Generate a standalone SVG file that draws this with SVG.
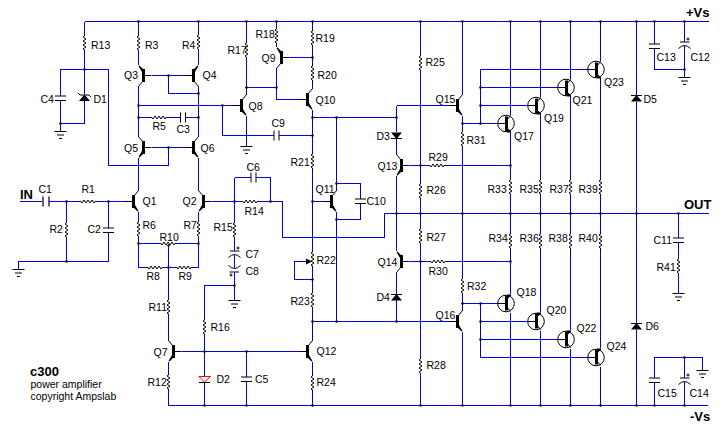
<svg xmlns="http://www.w3.org/2000/svg" width="724" height="430" viewBox="0 0 724 430">
<style>
text{font-family:"Liberation Sans",Arial,sans-serif;font-size:10.5px;fill:#000}
text.b{font-weight:bold;font-size:13px}
.w{fill:none;stroke:#0000e6;stroke-width:1;shape-rendering:crispEdges}
.j{fill:none;stroke:#000;stroke-width:2.6;stroke-linecap:round}
.k{fill:none;stroke:#000;stroke-width:1}
.f{fill:#000;stroke:none}
</style>
<defs>
<path id="rv" class="k" d="M0 0l0 2-1.500 1 3 2-3 2 3 2-3 2 3 2-3 2 1.500 1 0 2"/>
<path id="rh" class="k" d="M0 0l2 0 1 1.500 2-3 2 3 2-3 2 3 2-3 2 3 1-1.500 2 0"/>
<g id="q"><path class="k" d="M5 0H13M0-11L4.500-5.500"/><rect class="f" x="3.500" y="-6.500" width="3" height="13"/><path class="f" d="M3.500 3.500L7 4 1 10 0 9.500z"/></g>
<g id="qc"><circle class="k" cx="0" cy="0" r="8.300"/><path class="k" d="M-8 0H0M1-3.500L4.500-8"/><rect class="f" x="-1" y="-7" width="3" height="15"/><path class="f" d="M1 4L5 8V9H1z"/></g>
<path id="pv" class="k" d="M-5.500 0H5.500M-5.500 4.500H5.500"/>
<path id="ph" class="k" d="M0-5V5M5-5V5"/>
<path id="ec" class="k" d="M-4.500 0H5M-6 6.500Q0 .5 6 6.500M3.500-4.500V-1.500M2-3H5"/>
<path id="gnd" class="k" d="M-6 .5H6M-3.500 4H3.500M-1.500 7.500H1.500"/>
<g id="du"><path class="k" d="M-5.500 .5H5.500"/><path class="f" d="M0 0L5.500 6.500H-5.500z"/></g>
</defs>
<g id="connectors">
<path class="w" d="M84.500 21.500H709M168.500 405.500H708
M84.500 21.500V34M84.500 52V94M84.500 101V123.500H60.500V131M60.500 123.500V101M60.500 96V69.500H108.500V165.500H168.500V147.500
M138.500 21.500V34M138.500 52V64.500M138.500 85.500V136.500M138.500 157.500V190.500M138.500 211.500V220M138.500 238V267.500H146M164 267.500H175M193 267.500H198.500V238M198.500 220V211.500M198.500 190.500V157.500M198.500 136.500V85.500M198.500 64.500V51M198.500 33V21.500
M151.500 75.500H185.500M168.500 75.500V93.500H198.500M151.500 147.500H185.500
M138.500 105.500H233.500M222.500 105.500V135.500H274M279 135.500H312.500
M138.500 117.500H150M168 117.500H180M186 117.500H198.500
M246.500 21.500V41M246.500 59V94.500M246.500 115.500V146M246.500 87.500H276.500
M276.500 21.500V27M276.500 45V46.500M276.500 67.500V99.500H299.500M289.500 57.500H312.500
M312.500 21.500V29M312.500 47V64M312.500 82V88.500M312.500 109.500V152M312.500 170V250M312.500 268V291M312.500 309V340.500M312.500 361.500V374M312.500 392V405.500
M312.500 117.500H396.500M312.500 201.500H323.500M336.500 117.500V190.500M336.500 211.500V321.500M336.500 183.500H360.500V199M360.500 203.500V219.500H336.500
M306 261.500H294.500V279.500H312.500M312.500 321.500H449.500M396.500 105.500H449.500
M396.500 105.500V132M396.500 139V154.500M396.500 175.500V250.500M396.500 271.500V294M396.500 300V321.500
M409.500 165.500H428M446 165.500H510.500M409.500 261.500H429M447 261.500H510.500
M234.500 177.500H251M255.500 177.500H270.500V201.500M211.500 201.500H241M259 201.500H282.500V237.500H384.500V213.500H709
M234.500 177.500V221M234.500 239V251M234.500 255V268M234.500 272V300M234.500 285.500H204.500V318M204.500 336V376M204.500 382V405.500
M181.500 351.500H299.500M168.500 245V298M168.500 316V340.500M168.500 361.500V373M168.500 391V405.500
M138.500 243.500H159M177 243.500H198.500
M20 201.500H42M49 201.500H79M97 201.500H125.500M66.500 201.500V221M66.500 239V261.500M18.500 269V261.500H108.500V232.500M108.500 228V201.500
M246.500 351.500V377M246.500 381.500V405.500
M420.500 21.500V54M420.500 72V182M420.500 200V227M420.500 245V357M420.500 375V405.500
M462.500 21.500V94.500M462.500 115.500V130M462.500 148V277M462.500 295V310.500M462.500 331.500V405.500
M462.500 123.500H497.500M480.500 123.500V69.500H588M480.500 87.500H558M480.500 105.500H528
M462.500 303.500H497.500M480.500 303.500V357.500H588M480.500 321.500H528M480.500 339.500H558
M510.500 21.500V115M510.500 132V178M510.500 196V232M510.500 250V294M510.500 313V405.500
M540.500 21.500V97M540.500 114V178M540.500 196V232M540.500 250V312M540.500 331V405.500
M570.500 21.500V79M570.500 96V178M570.500 196V232M570.500 250V330M570.500 349V405.500
M600.500 21.500V61M600.500 78V178M600.500 196V232M600.500 250V348M600.500 367V405.500
M636.500 21.500V95M636.500 102V323M636.500 330V405.500
M654.500 21.500V44M654.500 48.500V69.500H684.500V77M684.500 21.500V42M684.500 46V69.500
M678.500 213.500V238M678.500 242.500V257M678.500 275V293
M654.500 378V357.500H702.500V370M654.500 382.500V405.500M684.500 357.500V378M684.500 382V405.500"/>
<path class="j" d="M138.500 21.500h0M198.500 21.500h0M246.500 21.500h0M276.500 21.500h0M312.500 21.500h0M420.500 21.500h0M462.500 21.500h0M510.500 21.500h0M540.500 21.500h0M570.500 21.500h0M600.500 21.500h0M636.500 21.500h0M654.500 21.500h0M684.500 21.500h0
M204.500 405.500h0M246.500 405.500h0M312.500 405.500h0M420.500 405.500h0M462.500 405.500h0M510.500 405.500h0M540.500 405.500h0M570.500 405.500h0M600.500 405.500h0M636.500 405.500h0M654.500 405.500h0M684.500 405.500h0
M84.500 69.500h0M60.500 123.500h0M168.500 75.500h0M198.500 93.500h0M138.500 105.500h0M222.500 105.500h0M138.500 117.500h0M198.500 117.500h0M168.500 147.500h0M66.500 201.500h0M108.500 201.500h0M234.500 201.500h0M66.500 261.500h0M270.500 201.500h0
M138.500 243.500h0M198.500 243.500h0M168.500 245.500h0M168.500 267.500h0M234.500 285.500h0M204.500 351.500h0M246.500 351.500h0
M246.500 87.500h0M276.500 87.500h0M312.500 57.500h0M312.500 117.500h0M312.500 135.500h0M336.500 117.500h0M396.500 117.500h0M312.500 201.500h0M336.500 183.500h0M336.500 219.500h0M312.500 279.500h0M312.500 321.500h0M336.500 321.500h0M396.500 321.500h0
M396.500 213.500h0M420.500 213.500h0M462.500 213.500h0M510.500 213.500h0M540.500 213.500h0M570.500 213.500h0M600.500 213.500h0M636.500 213.500h0M678.500 213.500h0
M420.500 165.500h0M420.500 261.500h0M510.500 165.500h0M510.500 261.500h0M462.500 123.500h0M480.500 123.500h0M480.500 105.500h0M480.500 87.500h0M462.500 303.500h0M480.500 303.500h0M480.500 321.500h0M480.500 339.500h0
M684.500 69.500h0M684.500 357.500h0"/>
</g>
<g id="R13"><use href="#rv" x="84.500" y="34"/><text x="91" y="49">R13</text></g>
<g id="R3"><use href="#rv" x="138.500" y="34"/><text x="145" y="49">R3</text></g>
<g id="R4"><use href="#rv" x="198.500" y="33"/><text x="182" y="49">R4</text></g>
<g id="R17"><use href="#rv" x="246.500" y="41"/><text x="227.500" y="54">R17</text></g>
<g id="R18"><use href="#rv" x="276.500" y="27"/><text x="255.500" y="38">R18</text></g>
<g id="R19"><use href="#rv" x="312.500" y="29"/><text x="315.500" y="42">R19</text></g>
<g id="R20"><use href="#rv" x="312.500" y="64"/><text x="317.500" y="79">R20</text></g>
<g id="R21"><use href="#rv" x="312.500" y="152"/><text x="290.500" y="166">R21</text></g>
<g id="R22"><use href="#rv" x="312.500" y="250"/><path class="f" d="M312 261.500L306 258.500V264.500z"/><text x="316.500" y="264">R22</text></g>
<g id="R23"><use href="#rv" x="312.500" y="291"/><text x="290.500" y="305">R23</text></g>
<g id="R24"><use href="#rv" x="312.500" y="374"/><text x="316.500" y="386">R24</text></g>
<g id="R2"><use href="#rv" x="66.500" y="221"/><text x="49.500" y="233">R2</text></g>
<g id="R6"><use href="#rv" x="138.500" y="220"/><text x="142.500" y="229">R6</text></g>
<g id="R7"><use href="#rv" x="198.500" y="220"/><text x="183.500" y="229">R7</text></g>
<g id="R15"><use href="#rv" x="234.500" y="221"/><text x="213.500" y="231">R15</text></g>
<g id="R11"><use href="#rv" x="168.500" y="298"/><text x="148.500" y="311">R11</text></g>
<g id="R12"><use href="#rv" x="168.500" y="373"/><text x="147.500" y="386">R12</text></g>
<g id="R16"><use href="#rv" x="204.500" y="318"/><text x="210.500" y="331">R16</text></g>
<g id="R25"><use href="#rv" x="420.500" y="54"/><text x="425.500" y="66">R25</text></g>
<g id="R26"><use href="#rv" x="420.500" y="182"/><text x="426.500" y="194">R26</text></g>
<g id="R27"><use href="#rv" x="420.500" y="227"/><text x="426.500" y="241">R27</text></g>
<g id="R28"><use href="#rv" x="420.500" y="357"/><text x="426.500" y="369">R28</text></g>
<g id="R31"><use href="#rv" x="462.500" y="130"/><text x="466.500" y="144">R31</text></g>
<g id="R32"><use href="#rv" x="462.500" y="277"/><text x="467" y="290">R32</text></g>
<g id="R33"><use href="#rv" x="510.500" y="178"/><text x="487.500" y="193">R33</text></g>
<g id="R35"><use href="#rv" x="540.500" y="178"/><text x="519.500" y="193">R35</text></g>
<g id="R37"><use href="#rv" x="570.500" y="178"/><text x="549.500" y="193">R37</text></g>
<g id="R39"><use href="#rv" x="600.500" y="178"/><text x="578.500" y="193">R39</text></g>
<g id="R34"><use href="#rv" x="510.500" y="232"/><text x="488.500" y="242">R34</text></g>
<g id="R36"><use href="#rv" x="540.500" y="232"/><text x="519.500" y="242">R36</text></g>
<g id="R38"><use href="#rv" x="570.500" y="232"/><text x="548.500" y="242">R38</text></g>
<g id="R40"><use href="#rv" x="600.500" y="232"/><text x="578.500" y="242">R40</text></g>
<g id="R41"><use href="#rv" x="678.500" y="257"/><text x="656.500" y="271">R41</text></g>
<g id="R1"><use href="#rh" x="79" y="201.500"/><text x="81.500" y="193">R1</text></g>
<g id="R5"><use href="#rh" x="150" y="117.500"/><text x="152.500" y="130">R5</text></g>
<g id="R8"><use href="#rh" x="146" y="267.500"/><text x="146.500" y="280">R8</text></g>
<g id="R9"><use href="#rh" x="175" y="267.500"/><text x="178.500" y="280">R9</text></g>
<g id="R10"><use href="#rh" x="159" y="243.500"/><text x="159.500" y="241">R10</text></g>
<g id="R14"><use href="#rh" x="241" y="201.500"/><text x="244.500" y="215">R14</text></g>
<g id="R29"><use href="#rh" x="428" y="165.500"/><text x="428.500" y="161">R29</text></g>
<g id="R30"><use href="#rh" x="429" y="261.500"/><text x="428.500" y="275">R30</text></g>
<g id="Q1"><use href="#q" transform="translate(138.500 201.500) scale(-1 1)"/><text x="142.500" y="205">Q1</text></g>
<g id="Q2"><use href="#q" transform="translate(198.500 201.500)"/><text x="182.500" y="205">Q2</text></g>
<g id="Q3"><use href="#q" transform="translate(138.500 75.500) scale(1 -1)"/><text x="124" y="79">Q3</text></g>
<g id="Q4"><use href="#q" transform="translate(198.500 75.500) scale(-1 -1)"/><text x="202.500" y="79">Q4</text></g>
<g id="Q5"><use href="#q" transform="translate(138.500 147.500)"/><text x="124" y="152">Q5</text></g>
<g id="Q6"><use href="#q" transform="translate(198.500 147.500) scale(-1 1)"/><text x="200.500" y="152">Q6</text></g>
<g id="Q7"><use href="#q" transform="translate(168.500 351.500)"/><text x="153.500" y="356">Q7</text></g>
<g id="Q8"><use href="#q" transform="translate(246.500 105.500) scale(-1 1)"/><text x="248.500" y="110">Q8</text></g>
<g id="Q9"><use href="#q" transform="translate(276.500 57.500) scale(1 -1)"/><text x="261.500" y="62">Q9</text></g>
<g id="Q10"><use href="#q" transform="translate(312.500 99.500) scale(-1 1)"/><text x="315.500" y="104">Q10</text></g>
<g id="Q11"><use href="#q" transform="translate(336.500 201.500) scale(-1 1)"/><text x="315.500" y="193">Q11</text></g>
<g id="Q12"><use href="#q" transform="translate(312.500 351.500) scale(-1 1)"/><text x="316.500" y="355">Q12</text></g>
<g id="Q13"><use href="#q" transform="translate(396.500 165.500)"/><text x="377.500" y="170">Q13</text></g>
<g id="Q14"><use href="#q" transform="translate(396.500 261.500) scale(1 -1)"/><text x="377.500" y="266">Q14</text></g>
<g id="Q15"><use href="#q" transform="translate(462.500 105.500) scale(-1 1)"/><text x="435.500" y="103">Q15</text></g>
<g id="Q16"><use href="#q" transform="translate(462.500 321.500) scale(-1 1)"/><text x="435.500" y="319">Q16</text></g>
<g id="Q17"><use href="#qc" x="506" y="123.500"/><text x="514" y="140">Q17</text></g>
<g id="Q19"><use href="#qc" x="536" y="105.500"/><text x="544" y="122">Q19</text></g>
<g id="Q21"><use href="#qc" x="566" y="87.500"/><text x="572.500" y="104">Q21</text></g>
<g id="Q23"><use href="#qc" x="596" y="69.500"/><text x="604" y="86">Q23</text></g>
<g id="Q18"><use href="#qc" transform="translate(506 303.500) scale(1 -1)"/><text x="516.500" y="296">Q18</text></g>
<g id="Q20"><use href="#qc" transform="translate(536 321.500) scale(1 -1)"/><text x="546.500" y="314">Q20</text></g>
<g id="Q22"><use href="#qc" transform="translate(566 339.500) scale(1 -1)"/><text x="576.500" y="332">Q22</text></g>
<g id="Q24"><use href="#qc" transform="translate(596 357.500) scale(1 -1)"/><text x="606.500" y="350">Q24</text></g>
<g id="C1"><use href="#ph" transform="translate(43 201.500) scale(1.200 1)"/><text x="38.500" y="193">C1</text></g>
<g id="C2"><use href="#pv" x="108.500" y="228"/><text x="87.500" y="233">C2</text></g>
<g id="C3"><use href="#ph" x="180.500" y="117.500"/><text x="176.500" y="133">C3</text></g>
<g id="C4"><use href="#pv" x="60.500" y="96"/><text x="40.500" y="103">C4</text></g>
<g id="C5"><use href="#pv" x="246.500" y="377"/><text x="255" y="383">C5</text></g>
<g id="C6"><use href="#ph" x="251" y="177.500"/><text x="246.500" y="171">C6</text></g>
<g id="C7"><use href="#ec" x="234.500" y="251"/><text x="245.500" y="258">C7</text></g>
<g id="C8"><use href="#ec" transform="translate(234.500 272) scale(-1 -1)"/><text x="245.500" y="275">C8</text></g>
<g id="C9"><use href="#ph" x="274" y="135.500"/><text x="271.500" y="127">C9</text></g>
<g id="C10"><use href="#pv" x="360.500" y="199"/><text x="366.500" y="205">C10</text></g>
<g id="C11"><use href="#pv" x="678.500" y="238"/><text x="653.500" y="244">C11</text></g>
<g id="C12"><use href="#ec" x="684.500" y="42"/><text x="690.500" y="61">C12</text></g>
<g id="C13"><use href="#pv" x="654.500" y="44"/><text x="656.500" y="61">C13</text></g>
<g id="C14"><use href="#ec" x="684.500" y="378"/><text x="689.500" y="397">C14</text></g>
<g id="C15"><use href="#pv" x="654.500" y="378"/><text x="657.500" y="397">C15</text></g>
<g id="D1"><path class="k" d="M78 93L80 95H89L91 97"/><path class="f" d="M84.500 94.500L90 101H79z"/><text x="93.500" y="103">D1</text></g>
<g id="D2"><path fill="none" stroke="#f00" d="M199 376.500H210.500L204.500 382z"/><path class="k" d="M199 382.500H210"/><text x="216.500" y="383">D2</text></g>
<g id="D3"><use href="#du" transform="translate(396.500 139) scale(1 -1)"/><text x="376.500" y="140">D3</text></g>
<g id="D4"><use href="#du" x="396.500" y="294"/><text x="376.500" y="301">D4</text></g>
<g id="D5"><use href="#du" x="636.500" y="95"/><text x="643.500" y="103">D5</text></g>
<g id="D6"><use href="#du" x="636.500" y="323"/><text x="645.500" y="330">D6</text></g>
<g id="grounds"><use href="#gnd" x="60.500" y="131"/><use href="#gnd" x="18.500" y="269"/><use href="#gnd" x="246.500" y="146"/><use href="#gnd" x="234.500" y="300"/><use href="#gnd" x="684.500" y="77"/><use href="#gnd" x="678.500" y="293"/><use href="#gnd" x="702.500" y="370"/></g>
<g id="labels">
<text class="b" x="20" y="199">IN</text>
<text class="b" x="686" y="17">+Vs</text>
<text class="b" x="684" y="209">OUT</text>
<text class="b" x="690" y="421">-Vs</text>
<text class="b" x="30" y="375.500">c300</text>
<text x="30.500" y="388">power amplifier</text>
<text x="30.500" y="399.500">copyright Ampslab</text>
</g>
</svg>
